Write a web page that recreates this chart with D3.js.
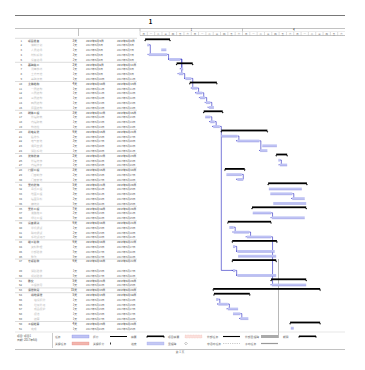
<!DOCTYPE html>
<html><head><meta charset="utf-8">
<script src="https://cdn.jsdelivr.net/npm/d3@7/dist/d3.min.js"></script>
<style>html,body{margin:0;padding:0;background:#fff;}svg{display:block;font-family:"Noto Sans CJK SC","Noto Sans",sans-serif;}</style>
</head><body>
<svg id="c" width="365" height="370"></svg>
<script>
// ---- data (day offsets on the timescale) ----
const taskNames = ["项目准备","编制计划","人员进场","材料采购","设备进场","基础施工","测量放线","土方开挖","基础浇筑","主体结构","一层结构","二层结构","三层结构","四层结构","屋面结构","砌体工程","外墙砌筑","内墙砌筑","构造柱","机电安装","给排水","电气安装","通风空调","消防系统","装饰装修","外墙装饰","内墙抹灰","门窗工程","门窗制作","门窗安装","室内装饰","吊顶工程","地面工程","墙面涂料","精装修","室外工程","道路施工","绿化工程","设备调试","单机调试","联动调试","系统试运行","竣工验收","资料整理","分部验收","整改","专项验收","","消防验收","规划验收","移交","工程收尾","清理收尾","场地清理","临设拆除","垃圾外运","成品保护","保洁","结算","工程结算","完成"];
const taskLevel = [1,2,2,2,2,1,2,2,2,1,2,2,2,2,2,1,2,2,2,1,2,2,2,2,1,2,2,1,2,2,1,2,2,2,2,1,2,2,1,2,2,2,1,2,2,2,1,0,2,2,1,2,1,2,3,3,3,3,3,1,2];
const isSummary = [1,0,0,0,0,1,0,0,0,1,0,0,0,0,0,1,0,0,0,1,0,0,0,0,1,0,0,1,0,0,1,0,0,0,0,1,0,0,1,0,0,0,1,0,0,0,1,0,0,0,1,0,1,1,0,0,0,0,0,1,0];
const startDay = [0.7,1.0,2.9,1.2,4.0,5.0,5.6,5.3,6.2,6.8,7.1,7.7,8.2,9.0,9.4,8.7,8.9,9.6,10.0,11.1,11.1,13.3,16.7,16.4,18.6,18.9,19.1,11.6,11.8,13.3,17.5,17.6,17.8,20.8,18.2,15.3,15.4,18.0,12.0,12.2,12.8,14.6,12.6,12.7,13.3,13.4,12.6,null,12.7,13.3,17.9,18.0,10.0,10.1,10.4,10.7,12.0,12.7,13.7,20.5,20.6];
const endDay   = [4.1,1.2,3.6,3.7,5.5,7.2,5.9,5.9,7.0,10.5,7.8,8.5,8.9,9.6,10.1,11.3,9.6,10.2,10.9,17.4,13.3,16.3,18.7,17.4,20.1,19.1,20.1,14.3,13.9,14.1,22.8,22.1,20.8,22.5,22.7,22.7,17.9,22.5,17.9,12.8,14.9,17.9,18.7,13.0,18.4,18.6,18.6,null,13.0,18.6,22.7,22.7,24.6,15.0,10.7,12.0,13.4,13.7,14.8,24.6,21.0];
const links = [[1,3],[3,4],[4,6],[4,7],[7,8],[8,10],[10,11],[11,12],[12,13],[13,14],[16,17],[17,18],[18,48],[20,21],[21,23],[25,26],[28,29],[32,33],[36,37],[39,40],[40,41],[41,51],[43,44],[48,49],[54,55],[55,56],[57,58]];
const topTierLabels = ["1","4"];
const dayLabels = ["日","一","二","三","四","五","六"];
const legendRow1 = ["任务","拆分","摘要","项目摘要","外部任务","外部里程碑","期限"];
const legendRow2 = ["关键任务","关键拆分","进度","里程碑","非活动任务","手动任务",""];
const legendInfo = ["项目: 项目1","日期: 2017年6月","",""];
const baseDate = new Date(2017,5,4);

// ---- drawing ----
const svg = d3.select("#c");
const x = d3.scaleLinear().domain([0,28]).range([140,345]);
const y = d3.scaleLinear().domain([0,60]).range([40.5,328.5]);
const fmt = d3.timeFormat("%Y年%-m月%-d日");
const dateOf = d => d3.timeDay.offset(baseDate, Math.floor(d));
const blue = "#2020c0", taskFill = "#bfc3f4";

// page lines
svg.append("line").attr("x1",15).attr("x2",345).attr("y1",15.5).attr("y2",15.5).attr("stroke","#555").attr("stroke-width",0.8);
svg.append("text").attr("x",150.5).attr("y",23.5).attr("text-anchor","middle").attr("font-size",6).attr("font-weight","bold").text("1");
svg.append("line").attr("x1",15).attr("x2",345).attr("y1",28.5).attr("y2",28.5).attr("stroke","#999").attr("stroke-width",0.6);
svg.append("line").attr("x1",78.5).attr("x2",78.5).attr("y1",28.5).attr("y2",36).attr("stroke","#999").attr("stroke-width",0.6);

// timescale
const ts = svg.append("g");
ts.append("line").attr("x1",140).attr("x2",345).attr("y1",31.5).attr("y2",31.5).attr("stroke","#ccc").attr("stroke-width",0.4);
ts.append("line").attr("x1",140).attr("x2",345).attr("y1",35.5).attr("y2",35.5).attr("stroke","#999").attr("stroke-width",0.6);
[0,14].forEach((d,i)=>{
  ts.append("line").attr("x1",x(d)).attr("x2",x(d)).attr("y1",28.5).attr("y2",31.5).attr("stroke","#999").attr("stroke-width",0.6);
  ts.append("text").attr("x",x(d+7)).attr("y",31).attr("text-anchor","middle").attr("font-size",3).attr("fill","#222").text(topTierLabels[i]);
});
d3.range(0,28).forEach(d=>{
  ts.append("line").attr("x1",x(d)).attr("x2",x(d)).attr("y1",32).attr("y2",35.5).attr("stroke","#aaa").attr("stroke-width",0.4);
  ts.append("text").attr("x",x(d+0.5)).attr("y",34.6).attr("text-anchor","middle").attr("font-size",2.4).attr("fill","#777").text(dayLabels[d%7]);
});

// table
const tb = svg.append("g");
taskNames.forEach((n,i)=>{
  if (startDay[i]===null) return;
  const yy = y(i)+1, s = isSummary[i];
  const fw = s ? "bold" : "normal";
  if (s) {
    tb.append("line").attr("x1",15).attr("x2",137).attr("y1",y(i)-2.2).attr("y2",y(i)-2.2).attr("stroke","#bbb").attr("stroke-width",0.5);
  }
  tb.append("text").attr("x",22).attr("y",yy).attr("text-anchor","end").attr("font-size",2.8).attr("fill","#555").text(i+1);
  tb.append("text").attr("x",25+taskLevel[i]*3).attr("y",yy).attr("font-size",2.8).attr("font-weight",fw).attr("fill",s?"#777":"#bbb").text(n);
  tb.append("text").attr("x",77).attr("y",yy).attr("text-anchor","end").attr("font-size",2.8).attr("font-weight",fw).attr("fill","#666").text(Math.max(1,Math.round(endDay[i]-startDay[i]))+"天");
  tb.append("text").attr("x",86).attr("y",yy).attr("font-size",2.7).attr("font-weight",fw).attr("fill","#666").text(fmt(dateOf(startDay[i])));
  tb.append("text").attr("x",117).attr("y",yy).attr("font-size",2.7).attr("font-weight",fw).attr("fill","#666").text(fmt(dateOf(endDay[i])));
});

// status line
svg.append("line").attr("x1",278.5).attr("x2",278.5).attr("y1",259).attr("y2",338).attr("stroke","#999").attr("stroke-width",0.7);

// links
const lk = svg.append("g").attr("fill","none").attr("stroke",blue).attr("stroke-width",0.6);
links.forEach(([a,b])=>{
  const x1 = x(endDay[a]), y1 = y(a)-0.5, x2 = x(startDay[b]), y2 = y(b)-0.5;
  lk.append("path").attr("d",`M${x1},${y1}H${x1+1.5}V${y2}H${x2}`);
  svg.append("path").attr("d",`M${x2},${y2}l-1.1,-0.7v1.4z`).attr("fill",blue);
});

// bars
const bars = svg.append("g");
taskNames.forEach((n,i)=>{
  if (startDay[i]===null) return;
  const x1 = x(startDay[i]), x2 = x(endDay[i]), yc = y(i)-0.5;
  if (isSummary[i]) {
    bars.append("rect").attr("x",x1).attr("y",yc-1.6).attr("width",x2-x1).attr("height",1.8).attr("fill","#000");
    [x1,x2].forEach(xx=>bars.append("path").attr("d",`M${xx-0.9},${yc}h1.8l-0.9,1.6z`).attr("fill","#000"));
  } else {
    bars.append("rect").attr("x",x1).attr("y",yc-1.2).attr("width",Math.max(0.8,x2-x1)).attr("height",2.4).attr("fill",taskFill);
    bars.append("line").attr("x1",x1).attr("x2",x1+Math.max(0.8,x2-x1)).attr("y1",yc+1.2).attr("y2",yc+1.2).attr("stroke","#7d82dc").attr("stroke-width",0.4);
  }
});

// legend
const lg = svg.append("g");
lg.append("line").attr("x1",15).attr("x2",345).attr("y1",332).attr("y2",332).attr("stroke","#ccc").attr("stroke-width",0.5);
lg.append("line").attr("x1",15).attr("x2",345).attr("y1",349.5).attr("y2",349.5).attr("stroke","#999").attr("stroke-width",0.6);
lg.append("line").attr("x1",52.5).attr("x2",52.5).attr("y1",333).attr("y2",348).attr("stroke","#999").attr("stroke-width",0.5);
legendInfo.forEach((t,i)=>lg.append("text").attr("x",17).attr("y",337+i*4.2).attr("font-size",2.8).attr("fill","#555").text(t));
const lx = [55,93,131,168,207,245,283], sx = [72,110,147,185,223,261,299], ly = [336.5,343.5];
[legendRow1,legendRow2].forEach((row,r)=>row.forEach((t,c)=>{
  if (t) lg.append("text").attr("x",lx[c]).attr("y",ly[r]+1).attr("font-size",2.8).attr("fill","#666").text(t);
}));
const sw = (c,r) => ({x0:sx[c], x1:sx[c]+17, yc:ly[r]});
let s;
s=sw(0,0); lg.append("rect").attr("x",s.x0).attr("y",s.yc-1.5).attr("width",17).attr("height",3).attr("fill",taskFill).attr("stroke","#7a7fe0").attr("stroke-width",0.3);
s=sw(0,1); lg.append("rect").attr("x",s.x0).attr("y",s.yc-1.5).attr("width",17).attr("height",3).attr("fill","#f2b6ad").attr("stroke","#e08080").attr("stroke-width",0.3);
s=sw(1,0); lg.append("line").attr("x1",s.x0).attr("x2",s.x1).attr("y1",s.yc).attr("y2",s.yc).attr("stroke","#000").attr("stroke-width",1);
s=sw(1,1); lg.append("rect").attr("x",s.x0).attr("y",s.yc-1).attr("width",0.8).attr("height",2).attr("fill","#000");
s=sw(2,0); lg.append("rect").attr("x",s.x0).attr("y",s.yc-1).attr("width",17).attr("height",1.6).attr("fill","#000");
[s.x0,s.x1].forEach(xx=>lg.append("path").attr("d",`M${xx-0.9},${s.yc}h1.8l-0.9,1.6z`).attr("fill","#000"));
s=sw(2,1); lg.append("rect").attr("x",s.x0).attr("y",s.yc-1.5).attr("width",17).attr("height",3).attr("fill","#c4c8f4").attr("stroke","#9aa0e8").attr("stroke-width",0.3);
s=sw(3,0); lg.append("rect").attr("x",s.x0).attr("y",s.yc-1.5).attr("width",17).attr("height",3).attr("fill","#fbe0dc").attr("stroke","#e9a9a0").attr("stroke-width",0.3).attr("stroke-dasharray","1,0.6");
s=sw(3,1); lg.append("path").attr("d",`M${s.x0+1},${s.yc-1.3}l1.3,1.3l-1.3,1.3l-1.3,-1.3z`).attr("fill","none").attr("stroke","#666").attr("stroke-width",0.4);
s=sw(4,0); lg.append("line").attr("x1",s.x0).attr("x2",s.x1).attr("y1",s.yc).attr("y2",s.yc).attr("stroke","#000").attr("stroke-width",1.1);
s=sw(4,1); lg.append("line").attr("x1",s.x0).attr("x2",s.x1).attr("y1",s.yc).attr("y2",s.yc).attr("stroke","#555").attr("stroke-width",0.5).attr("stroke-dasharray","0.6,1.2");
s=sw(5,0); lg.append("rect").attr("x",s.x0).attr("y",s.yc-1.5).attr("width",17).attr("height",3).attr("fill","#aaa");
s=sw(5,1); lg.append("rect").attr("x",s.x0).attr("y",s.yc-0.6).attr("width",17).attr("height",1.2).attr("fill","#999");
s=sw(6,0); lg.append("rect").attr("x",s.x0).attr("y",s.yc-1).attr("width",17).attr("height",1.6).attr("fill","#000");
[s.x0,s.x1].forEach(xx=>lg.append("path").attr("d",`M${xx-0.9},${s.yc}h1.8l-0.9,1.6z`).attr("fill","#000"));

svg.append("text").attr("x",180).attr("y",353).attr("text-anchor","middle").attr("font-size",2.8).attr("fill","#666").text("第 1 页");
</script>
</body></html>
